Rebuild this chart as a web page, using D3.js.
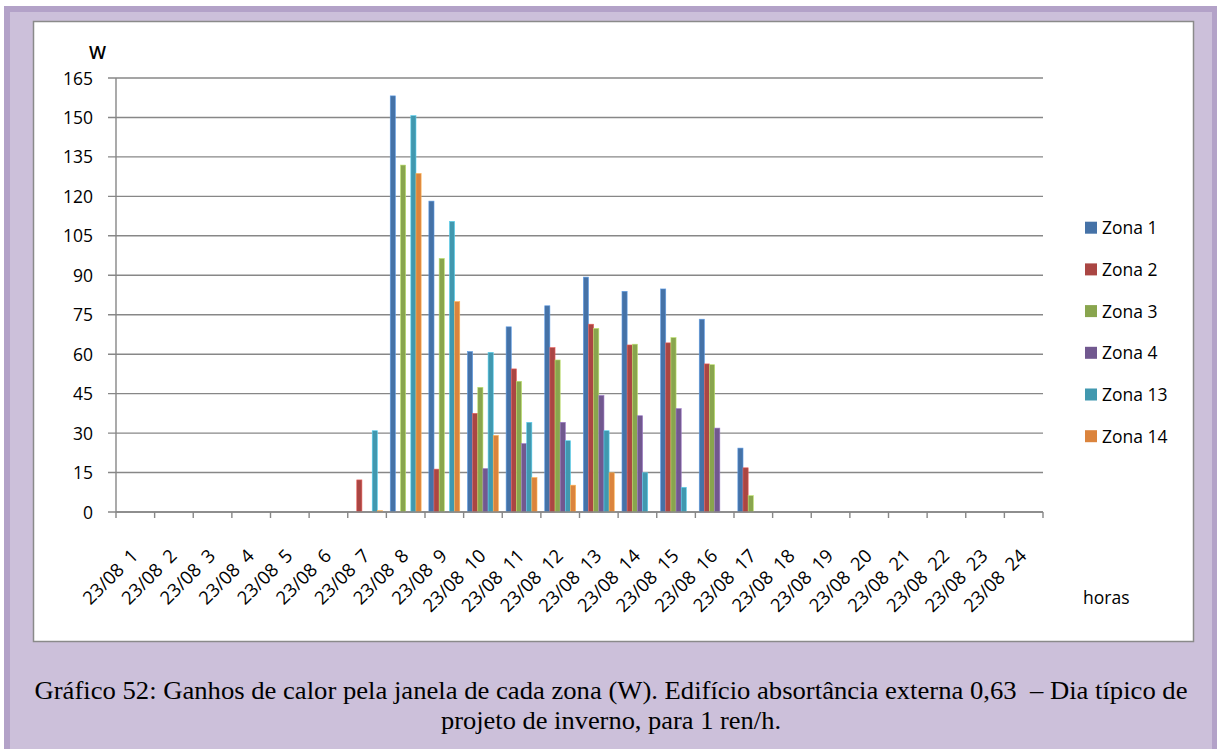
<!DOCTYPE html>
<html>
<head>
<meta charset="utf-8">
<script src="https://cdn.jsdelivr.net/npm/d3@7"></script>
<style>
  body { margin: 0; background: #ffffff; }
</style>
</head>
<body>
<script>
// hours of the day (x categories)
const horas = d3.range(1, 25).map(h => '23/08 ' + h);

// heat gains through the window, W
const zona1  = [0, 0, 0, 0, 0, 0, 0, 158.2, 118.2, 61, 70.4, 78.4, 89.3, 83.9, 84.8, 73.3, 24.3, 0, 0, 0, 0, 0, 0, 0];
const zona2  = [0, 0, 0, 0, 0, 0, 12.2, 0, 16.3, 37.5, 54.4, 62.5, 71.4, 63.5, 64.3, 56.3, 16.8, 0, 0, 0, 0, 0, 0, 0];
const zona3  = [0, 0, 0, 0, 0, 0, 0, 131.9, 96.4, 47.4, 49.7, 57.8, 69.8, 63.8, 66.3, 56, 6.2, 0, 0, 0, 0, 0, 0, 0];
const zona4  = [0, 0, 0, 0, 0, 0, 0, 0, 0, 16.5, 26, 34.1, 44.3, 36.6, 39.3, 31.9, 0, 0, 0, 0, 0, 0, 0, 0];
const zona13 = [0, 0, 0, 0, 0, 0, 30.9, 150.7, 110.5, 60.7, 34.1, 27.1, 30.9, 14.9, 9.4, 0, 0, 0, 0, 0, 0, 0, 0, 0];
const zona14 = [0, 0, 0, 0, 0, 0, 0.5, 128.7, 80, 29.1, 13.1, 10.2, 14.9, 0, 0, 0, 0, 0, 0, 0, 0, 0, 0, 0];

const seriesNames = ['Zona 1', 'Zona 2', 'Zona 3', 'Zona 4', 'Zona 13', 'Zona 14'];
const seriesValues = [zona1, zona2, zona3, zona4, zona13, zona14];
const seriesColors = ['#4572a7', '#aa4643', '#89a54e', '#71588f', '#4198af', '#db843d'];

const yTicks = d3.range(0, 166, 15);

const W = 1217, H = 749;
const plot = { left: 116, right: 1043, top: 78, bottom: 512 };

const svg = d3.select('body').append('svg')
    .attr('width', W)
    .attr('height', H);

// purple frame
svg.append('rect').attr('x', 4).attr('y', 6).attr('width', W - 4).attr('height', H - 6).attr('fill', '#b3a2c8');
svg.append('rect').attr('x', 10).attr('y', 12).attr('width', 1202).attr('height', H - 12).attr('fill', '#ccc0da');

// white chart panel
svg.append('rect')
    .attr('x', 33.5).attr('y', 21.5)
    .attr('width', 1160).attr('height', 620)
    .attr('fill', '#ffffff')
    .attr('stroke', '#8a8a8a')
    .attr('stroke-width', 1.5);

const x = d3.scaleBand()
    .domain(horas)
    .range([plot.left, plot.right])
    .padding(0);

const xInner = d3.scaleBand()
    .domain(seriesNames)
    .range([0, x.bandwidth()])
    .paddingInner(0)
    .paddingOuter(0.75);

const y = d3.scaleLinear()
    .domain([0, 165])
    .range([plot.bottom, plot.top]);

const font = '"Open Sans", "Noto Sans", sans-serif';

// gridlines + y ticks
svg.append('g')
    .selectAll('line')
    .data(yTicks)
    .enter().append('line')
    .attr('x1', plot.left - 8)
    .attr('x2', plot.right)
    .attr('y1', d => y(d))
    .attr('y2', d => y(d))
    .attr('stroke', '#878787')
    .attr('stroke-width', 1.4);

svg.append('g')
    .selectAll('text')
    .data(yTicks)
    .enter().append('text')
    .attr('x', 93)
    .attr('y', d => y(d) + 6.5)
    .attr('text-anchor', 'end')
    .style('font-family', font)
    .style('font-size', '17.5px')
    .style('fill', '#000')
    .text(d => d);

// y axis line
svg.append('line')
    .attr('x1', plot.left).attr('x2', plot.left)
    .attr('y1', plot.top).attr('y2', plot.bottom)
    .attr('stroke', '#878787')
    .attr('stroke-width', 1.4);

// bars
seriesValues.forEach((vals, s) => {
    const c = d3.color(seriesColors[s]);
    svg.append('g')
        .selectAll('rect')
        .data(vals.map((v, i) => ({ hora: horas[i], v: v })).filter(d => d.v > 0))
        .enter().append('rect')
        .attr('x', d => x(d.hora) + xInner(seriesNames[s]))
        .attr('y', d => y(d.v))
        .attr('width', xInner.bandwidth())
        .attr('height', d => y(0) - y(d.v))
        .attr('fill', seriesColors[s])
        .attr('stroke', c.brighter(0.9))
        .attr('stroke-width', 0.6);
});

// x axis line + ticks at category boundaries
svg.append('line')
    .attr('x1', plot.left).attr('x2', plot.right)
    .attr('y1', plot.bottom).attr('y2', plot.bottom)
    .attr('stroke', '#878787')
    .attr('stroke-width', 1.6);

svg.append('g')
    .selectAll('line')
    .data(horas.concat(['end']))
    .enter().append('line')
    .attr('x1', (d, i) => plot.left + i * x.step())
    .attr('x2', (d, i) => plot.left + i * x.step())
    .attr('y1', plot.bottom)
    .attr('y2', plot.bottom + 6)
    .attr('stroke', '#878787')
    .attr('stroke-width', 1.4);

// rotated hour labels (wider gap before the hour, like the original)
svg.append('g')
    .selectAll('text')
    .data(horas)
    .enter().append('text')
    .attr('text-anchor', 'end')
    .attr('transform', d => `translate(${x(d) + x.bandwidth() / 2 + 4},${plot.bottom + 45}) rotate(-45)`)
    .style('font-family', font)
    .style('font-size', '18.5px')
    .style('fill', '#000')
    .text(d => d.replace(' ', '\u2002'));

// axis titles
svg.append('text')
    .attr('x', 97.5).attr('y', 59)
    .attr('text-anchor', 'middle')
    .style('font-family', font)
    .style('font-size', '18px')
    .style('font-weight', '600')
    .text('W');

svg.append('text')
    .attr('x', 1083).attr('y', 604)
    .style('font-family', font)
    .style('font-size', '17.5px')
    .text('horas');

// legend
const legend = svg.append('g')
    .selectAll('g')
    .data(seriesNames)
    .enter().append('g')
    .attr('transform', (d, i) => `translate(1085,${221.7 + i * 41.7})`);

legend.append('rect')
    .attr('width', 12).attr('height', 12)
    .attr('fill', (d, i) => seriesColors[i]);

legend.append('text')
    .attr('x', 17).attr('y', 12.5)
    .style('font-family', font)
    .style('font-size', '17.5px')
    .text(d => d);

// caption
const caption = [
    { t: 'Gráfico 52: Ganhos de calor pela janela de cada zona (W). Edifício absortância externa 0,63  – Dia típico de', y: 699, len: 1153 },
    { t: 'projeto de inverno, para 1 ren/h.', y: 729, len: 340 }
];
svg.append('g')
    .selectAll('text')
    .data(caption)
    .enter().append('text')
    .attr('x', 611)
    .attr('y', d => d.y)
    .attr('text-anchor', 'middle')
    .attr('textLength', d => d.len)
    .attr('lengthAdjust', 'spacingAndGlyphs')
    .style('font-family', '"Times New Roman", "Liberation Serif", Times, serif')
    .style('font-size', '25px')
    .style('white-space', 'pre')
    .text(d => d.t);
</script>
</body>
</html>
